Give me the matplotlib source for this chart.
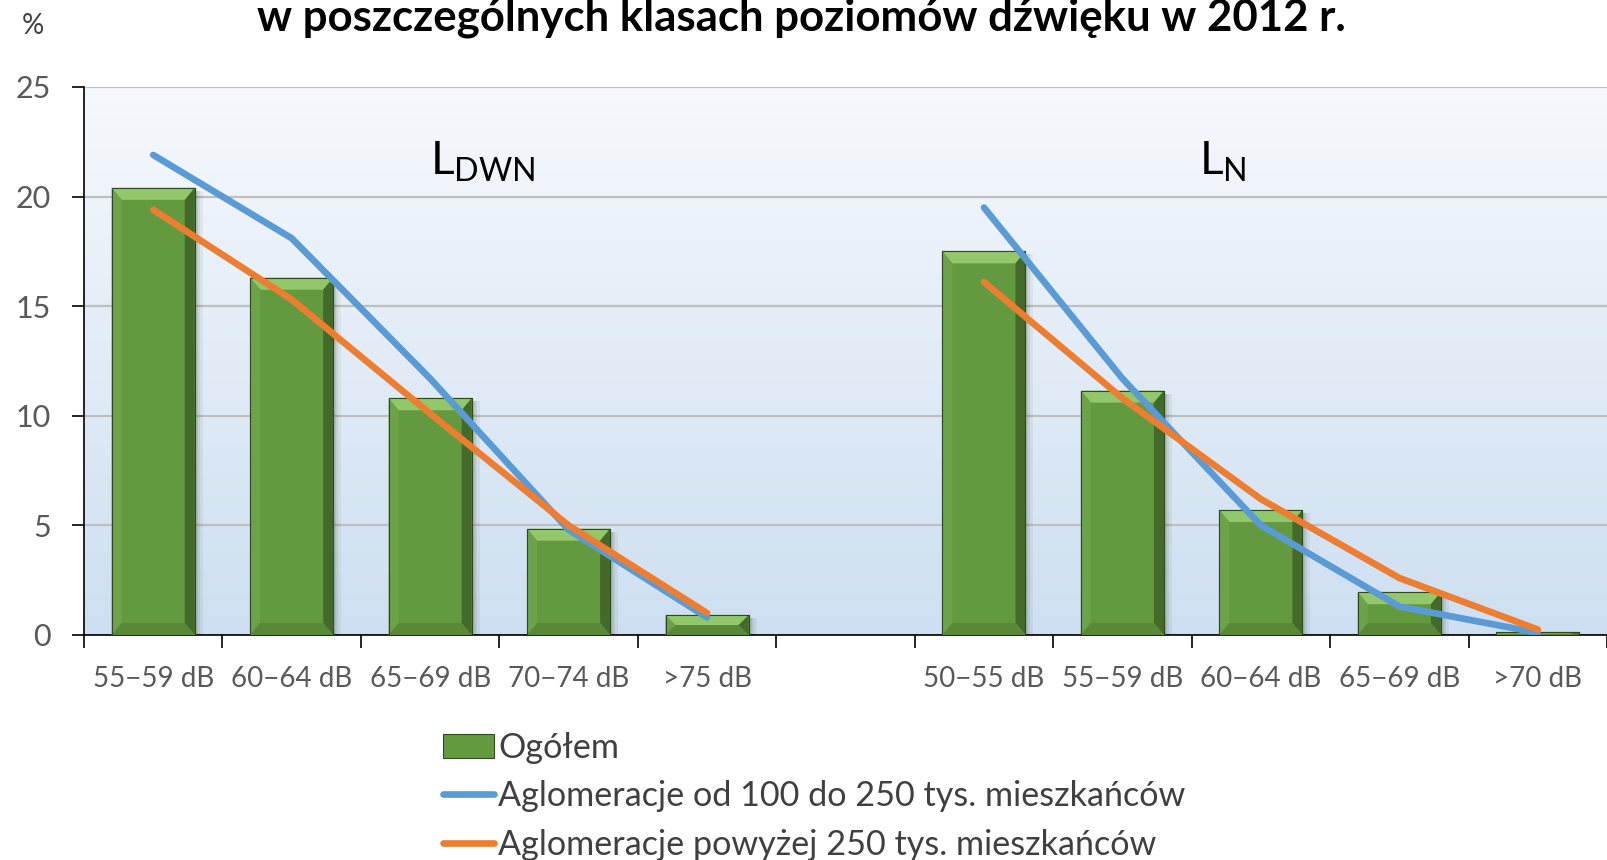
import numpy as np
import matplotlib
matplotlib.use('Agg')
import matplotlib.pyplot as plt
from matplotlib.patches import Polygon, Rectangle

plt.rcParams['font.family'] = ['Lato', 'DejaVu Sans']

# data (% of population), gap column between the two groups
categories = ['55−59 dB', '60−64 dB', '65−69 dB', '70−74 dB', '>75 dB', '',
              '50−55 dB', '55−59 dB', '60−64 dB', '65−69 dB', '>70 dB']
ogolem = [20.4, 16.3, 10.8, 4.85, 0.9, np.nan, 17.5, 11.15, 5.7, 1.95, 0.12]
agl_100_250 = [21.9, 18.1, 11.7, 4.8, 0.8, np.nan, 19.5, 11.7, 5.0, 1.3, 0.1]
agl_pow_250 = [19.4, 15.3, 10.1, 5.0, 1.0, np.nan, 16.1, 10.8, 6.2, 2.6, 0.25]
group_labels = [r'$\mathregular{L_{DWN}}$', r'$\mathregular{L_{N}}$']

title = 'w poszczególnych klasach poziomów dźwięku w 2012 r.'
legend_labels = ['Ogółem', 'Aglomeracje od 100 do 250 tys. mieszkańców',
                 'Aglomeracje powyżej 250 tys. mieszkańców']

GREEN = '#649a3f'
BLUE = '#5b9bd5'
ORANGE = '#ed7d31'
GRAY_TXT = '#595959'

fig = plt.figure(figsize=(16.07, 8.6), dpi=100)
ax = fig.add_axes([84 / 1607, 1 - 635 / 860, 1 - 84 / 1607, (635 - 87) / 860])

x = np.arange(len(categories))
ax.set_xlim(-0.5, len(categories) - 0.5)
ax.set_ylim(0, 25)

# background gradient
grad = np.linspace(0, 1, 256).reshape(-1, 1)
top = np.array([0.965, 0.976, 0.992])
bot = np.array([0.804, 0.875, 0.945])
img = top + (bot - top) * grad[:, :, None]
ax.imshow(img, extent=[0, 1, 0, 1], transform=ax.transAxes, aspect='auto', zorder=0)

ax.set_yticks([0, 5, 10, 15, 20, 25])
ax.yaxis.grid(True, color='#bfbfbf', linewidth=1.6, zorder=1)
ax.set_axisbelow(True)

# bars
mask = ~np.isnan(np.array(ogolem))
bars = ax.bar(x[mask], np.array(ogolem)[mask], width=0.6, color=GREEN,
              edgecolor='#2f4a1e', linewidth=0.8, zorder=3, label=legend_labels[0])

p0 = ax.transData.transform((0, 0))
p1 = ax.transData.transform((1, 1))
sx, sy = p1[0] - p0[0], p1[1] - p0[1]
for r in bars:
    x0, y0, w, h = r.get_x(), r.get_y(), r.get_width(), r.get_height()
    # soft shadow to the right
    for k, a in [(7, 0.06), (4, 0.08), (2, 0.1)]:
        ax.add_patch(Rectangle((x0 + 1 / sx, y0), w + k / sx, h - 3 / sy, color='#1c2a14',
                               alpha=a, lw=0, zorder=2))
    bx = 10 / sx
    by = min(12 / sy, h / 2)
    xt, yt = x0 + w, y0 + h
    ax.add_patch(Polygon([(x0, yt), (xt, yt), (xt - bx, yt - by), (x0 + bx, yt - by)],
                         color='#93c76c', lw=0, zorder=4))
    ax.add_patch(Polygon([(x0, y0), (x0, yt), (x0 + bx, yt - by), (x0 + bx, y0 + by)],
                         color='#6ba346', lw=0, zorder=4))
    ax.add_patch(Polygon([(xt, y0), (xt, yt), (xt - bx, yt - by), (xt - bx, y0 + by)],
                         color='#436a2b', lw=0, zorder=4))
    ax.add_patch(Polygon([(x0, y0), (xt, y0), (xt - bx, y0 + by), (x0 + bx, y0 + by)],
                         color='#5a8839', lw=0, zorder=4))
    ax.add_patch(Rectangle((x0, y0), w, h, fill=False, edgecolor='#2f4a1e', lw=0.8, zorder=5))

ax.plot(x, agl_100_250, color=BLUE, lw=4.8, solid_capstyle='round',
        solid_joinstyle='round', zorder=6, label=legend_labels[1])
ax.plot(x, agl_pow_250, color=ORANGE, lw=4.8, solid_capstyle='round',
        solid_joinstyle='round', zorder=7, label=legend_labels[2])

# group labels
ax.text(2.0, 21.0, group_labels[0], fontsize=33, color='black', ha='left', va='baseline', zorder=8)
ax.text(7.55, 21.0, group_labels[1], fontsize=33, color='black', ha='left', va='baseline', zorder=8)

# axes styling
for s in ['top', 'right']:
    ax.spines[s].set_visible(False)
ax.spines['left'].set_color('black')
ax.spines['bottom'].set_color('black')
ax.spines['left'].set_linewidth(1.2)
ax.spines['bottom'].set_linewidth(1.2)
ax.set_xticks(x)
ax.set_xticklabels(categories)
ax.set_xticks(np.arange(-0.5, len(categories)), minor=True)
ax.tick_params(axis='x', which='major', length=0, pad=22, labelsize=20, labelcolor=GRAY_TXT)
ax.tick_params(axis='x', which='minor', length=9, width=1.2, color='black')
ax.tick_params(axis='y', length=9, width=1.2, pad=15, labelsize=22, labelcolor=GRAY_TXT)

fig.text(22 / 1607, 1 - 34 / 860, '%', fontsize=20, color='#404040', ha='left', va='baseline')
fig.text(801 / 1607, 1 - 31 / 860, title, fontsize=31.5, fontweight='bold', color='black',
         ha='center', va='baseline')

handles, labels = ax.get_legend_handles_labels()
order = [labels.index(l) for l in legend_labels]
fig.legend([handles[i] for i in order], [labels[i] for i in order],
           loc='upper left', bbox_to_anchor=(443 / 1607, 1 - 732 / 860),
           frameon=False, fontsize=24.6, handlelength=1.5, handletextpad=0.12,
           labelspacing=0.48, borderpad=0, borderaxespad=0, labelcolor='#404040')

fig.savefig('out.png', dpi=100)
